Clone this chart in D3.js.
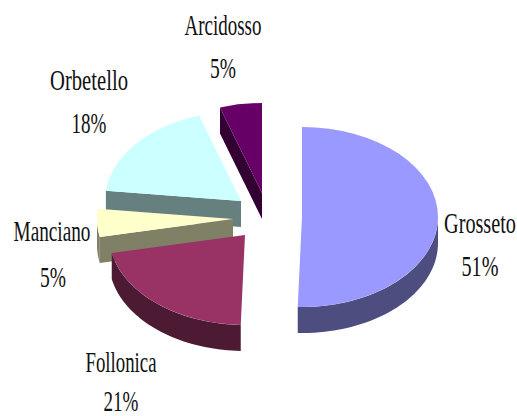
<!DOCTYPE html>
<html>
<head>
<meta charset="utf-8">
<script src="https://cdn.jsdelivr.net/npm/d3@7"></script>
<style>
html,body{margin:0;padding:0;background:#fff;overflow:hidden}
svg{display:block}
text{font-family:"Liberation Serif",serif;font-size:30px;fill:#111;text-anchor:middle}
</style>
</head>
<body>
<svg id="c" width="517" height="416"></svg>
<script>
const categories = ["Grosseto","Follonica","Manciano","Orbetello","Arcidosso"];
const shares = [50.5, 21.3, 5.0, 18.2, 5.0];
const topColors = ["#9999ff","#993366","#ffffcc","#ccffff","#660066"];
const sideColors = ["#4d4d80","#4d1a33","#808066","#668080","#330033"];

// layout, indexed like categories
const rx = 136, ry = 90, depth = 26;
const apex = [[302,217],[245,235],[233,219],[241,201],[262,193]];
const nameBox = [[480,233,72],[121,372,71],[52,241,77],[89,90,78],[223,35,77]];
const pctBox  = [[480,276,37],[121,411,35],[53,287,26],[89,133,35],[223,78,26]];
const drawOrder = [4,3,2,1,0];

const svg = d3.select("#c");
const TAU = 2*Math.PI;
const arcs = d3.pie().sort(null).value(d=>d).startAngle(0).endAngle(TAU)(shares);
const arcGen = d3.arc().innerRadius(0).outerRadius(rx);
const yScale = d3.scaleLinear().domain([0,rx]).range([0,ry]);
const px = a => rx*Math.sin(a);
const py = a => -yScale(rx*Math.cos(a));

drawOrder.forEach(i=>{
  const a = arcs[i];
  const g = svg.append("g").attr("transform",`translate(${apex[i][0]},${apex[i][1]})`);
  // front rim wall
  const w0 = Math.max(a.startAngle, Math.PI/2), w1 = Math.min(a.endAngle, 1.5*Math.PI);
  if (w1 > w0) {
    const angles = d3.range(0,41).map(k=>w0+(w1-w0)*k/40);
    const area = d3.area().x(t=>px(t)).y0(t=>py(t)).y1(t=>py(t)+depth);
    g.append("path").attr("d",area(angles)).attr("fill",sideColors[i]);
  }
  // cut wall
  if (a.startAngle > 1.05*Math.PI) {
    const t = a.startAngle;
    const line = d3.line();
    g.append("path")
      .attr("d",line([[0,0],[px(t),py(t)],[px(t),py(t)+depth],[0,depth]])+"Z")
      .attr("fill",sideColors[i]);
  }
  // top face
  g.append("path")
    .attr("d",arcGen(a))
    .attr("transform",`scale(1,${ry/rx})`)
    .attr("fill",topColors[i]);
});

function squeezed(str, box){
  const t = svg.append("text").text(str);
  const sx = box[2] / t.node().getComputedTextLength();
  t.attr("transform",`translate(${box[0]},${box[1]}) scale(${sx},1)`);
}
categories.forEach((name,i)=>{
  squeezed(name, nameBox[i]);
  squeezed(d3.format(".0f")(shares[i])+"%", pctBox[i]);
});
</script>
</body>
</html>
